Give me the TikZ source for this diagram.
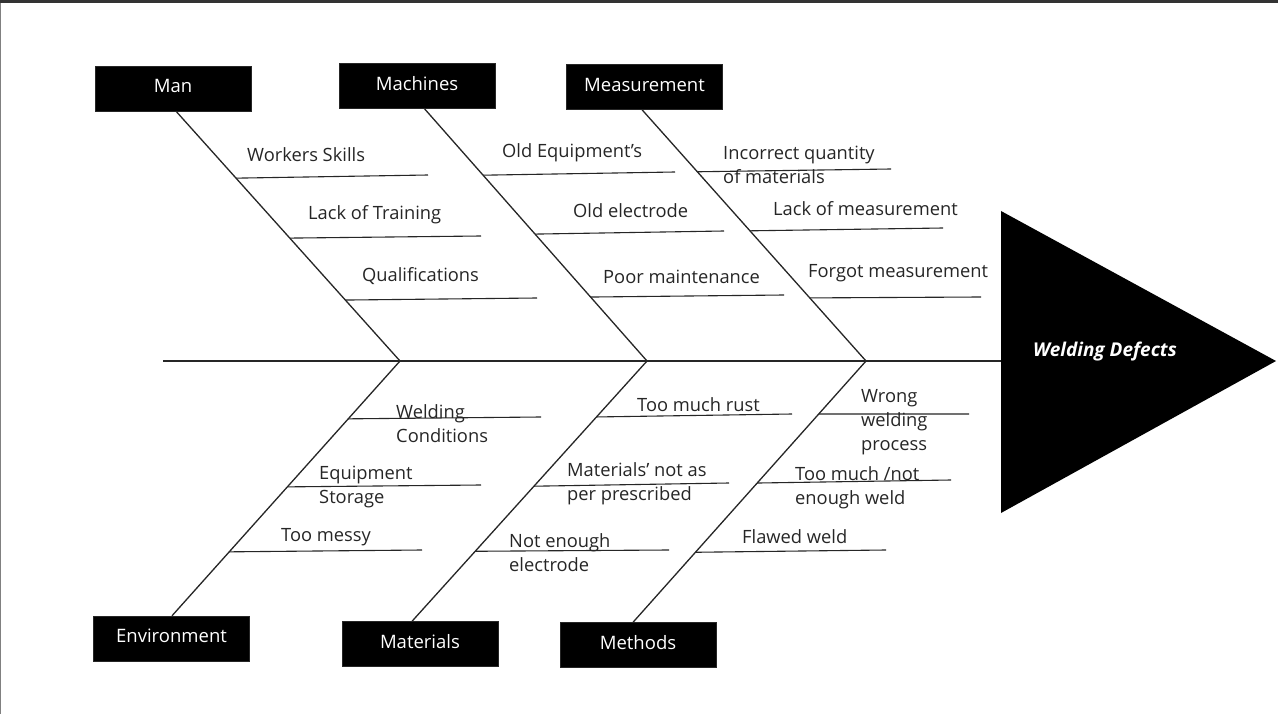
\documentclass[tikz,border=0pt]{standalone}
\usepackage{fontspec}
\setmainfont{Open Sans}
\usetikzlibrary{calc}
\definecolor{ink}{HTML}{262626}
\begin{document}
\begin{tikzpicture}[x=1pt,y=-1pt,
  catbox/.style={fill=black,draw=ink,minimum width=156pt,minimum height=45pt,inner sep=0pt,text=white,font=\fontsize{18.5}{24}\selectfont},
  bone/.style={draw=ink,line width=1.3pt},
  twig/.style={draw=ink,line width=1.1pt},
  lbl/.style={anchor=base west,inner sep=0pt,text=ink,align=left,font=\fontsize{18.3}{24}\selectfont}]
\useasboundingbox (0,0) rectangle (1278,714);
\fill[white] (0,0) rectangle (1278,714);
\fill[black!80] (0,0) rectangle (1278,3);
\draw[gray,line width=1.2pt] (0.6,3) -- (0.6,714);
% category boxes
\node[catbox] (man)  at (173,88.5) {\raisebox{5pt}{Man}};
\node[catbox] (mach) at (417,85.5) {\raisebox{5pt}{Machines}};
\node[catbox] (meas) at (644.5,87) {\raisebox{5pt}{Measurement}};
\node[catbox] (env)  at (171.5,638.5) {\raisebox{5pt}{Environment}};
\node[catbox] (mat)  at (420,644) {\raisebox{5pt}{Materials}};
\node[catbox] (meth) at (638,645) {\raisebox{5pt}{Methods}};
% head
\coordinate (headL) at (1001,361);
\fill[black] (1001,211) -- (1276,361) -- (1001,513) -- cycle;
\node[text=white,font=\fontsize{19}{22}\selectfont\bfseries\itshape] (head) at (1105,352) {Welding Defects};
% spine
\coordinate (tail) at (163,361);
\coordinate (jMan) at (400,361);
\coordinate (jMach) at (647,361);
\coordinate (jMeas) at (866,361);
\draw[bone,line width=1.1pt] (tail) -- (headL);
% bone starts
\coordinate (bMan) at ([xshift=3pt]man.south);
\coordinate (bMach) at ([xshift=7pt]mach.south);
\coordinate (bMeas) at ([xshift=-2.5pt]meas.south);
\coordinate (bEnv) at ([xshift=0.5pt]env.north);
\coordinate (bMat) at ([xshift=-8pt]mat.north);
\coordinate (bMeth) at ([xshift=-5pt]meth.north);
\draw[bone] (bMan) -- (jMan);
\draw[bone] (bMach) -- (jMach);
\draw[bone] (bMeas) -- (jMeas);
\draw[bone] (bEnv) -- (jMan);
\draw[bone] (bMat) -- (jMach);
\draw[bone] (bMeth) -- (jMeas);
% twigs: Man
\coordinate (sWS) at ($(bMan)!0.268!(jMan)$);  \coordinate (eWS) at (428,175);
\coordinate (sLT) at ($(bMan)!0.508!(jMan)$);  \coordinate (eLT) at (481,236);
\coordinate (sQ)  at ($(bMan)!0.756!(jMan)$);  \coordinate (eQ)  at (537,298);
\draw[twig] (sWS) -- (eWS); \draw[twig] (sLT) -- (eLT); \draw[twig] (sQ) -- (eQ);
\node[lbl] (tWS) at (247,162) {Workers Skills};
\node[lbl] (tLT) at (308,220) {Lack of Training};
\node[lbl] (tQ)  at (362,282) {Qualifications};
% Machines
\coordinate (sOE) at ($(bMach)!0.265!(jMach)$); \coordinate (eOE) at (675,172);
\coordinate (sOL) at ($(bMach)!0.498!(jMach)$); \coordinate (eOL) at (724,231);
\coordinate (sPM) at ($(bMach)!0.747!(jMach)$); \coordinate (ePM) at (784,295);
\draw[twig] (sOE) -- (eOE); \draw[twig] (sOL) -- (eOL); \draw[twig] (sPM) -- (ePM);
\node[lbl] (tOE) at (502,158) {Old Equipment’s};
\node[lbl] (tOL) at (573,218) {Old electrode};
\node[lbl] (tPM) at (603,284) {Poor maintenance};
% Measurement
\coordinate (sIQ) at ($(bMeas)!0.247!(jMeas)$); \coordinate (eIQ) at (891,169);
\coordinate (sLM) at ($(bMeas)!0.482!(jMeas)$); \coordinate (eLM) at (943,228);
\coordinate (sFM) at ($(bMeas)!0.749!(jMeas)$); \coordinate (eFM) at (981,297);
\draw[twig] (sIQ) -- (eIQ); \draw[twig] (sLM) -- (eLM); \draw[twig] (sFM) -- (eFM);
\node[lbl] (tIQ) at (723,184) {Incorrect quantity\\of materials};
\node[lbl] (tLM) at (773,216) {Lack of measurement};
\node[lbl] (tFM) at (808,278) {Forgot measurement};
% Environment
\coordinate (sWC) at ($(bEnv)!0.773!(jMan)$); \coordinate (eWC) at (541,417);
\coordinate (sES) at ($(bEnv)!0.506!(jMan)$); \coordinate (eES) at (481,485);
\coordinate (sTM) at ($(bEnv)!0.251!(jMan)$); \coordinate (eTM) at (422,550);
\draw[twig] (sWC) -- (eWC); \draw[twig] (sES) -- (eES); \draw[twig] (sTM) -- (eTM);
\node[lbl] (tWC) at (396,442) {Welding\\Conditions};
\node[lbl] (tES) at (319,503) {Equipment\\Storage};
\node[lbl] (tTM) at (281,541) {Too messy};
% Materials
\coordinate (sTR) at ($(bMat)!0.785!(jMach)$); \coordinate (eTR) at (792,414);
\coordinate (sMN) at ($(bMat)!0.519!(jMach)$); \coordinate (eMN) at (729,483);
\coordinate (sNE) at ($(bMat)!0.269!(jMach)$); \coordinate (eNE) at (669,550);
\draw[twig] (sTR) -- (eTR); \draw[twig] (sMN) -- (eMN); \draw[twig] (sNE) -- (eNE);
\node[lbl] (tTR) at (637,411) {Too much rust};
\node[lbl] (tMN) at (567,500) {Materials’ not as\\per prescribed};
\node[lbl] (tNE) at (509,571) {Not enough\\electrode};
% Methods
\coordinate (sWW) at ($(bMeth)!0.797!(jMeas)$); \coordinate (eWW) at (969,414);
\coordinate (sTN) at ($(bMeth)!0.533!(jMeas)$); \coordinate (eTN) at (951,480);
\coordinate (sFW) at ($(bMeth)!0.268!(jMeas)$); \coordinate (eFW) at (886,550);
\draw[twig] (sWW) -- (eWW); \draw[twig] (sTN) -- (eTN); \draw[twig] (sFW) -- (eFW);
\node[lbl] (tWW) at (861,450) {Wrong\\welding\\process};
\node[lbl] (tTN) at (795,504) {Too much /not\\enough weld};
\node[lbl] (tFW) at (742,543) {Flawed weld};
\end{tikzpicture}
\end{document}
